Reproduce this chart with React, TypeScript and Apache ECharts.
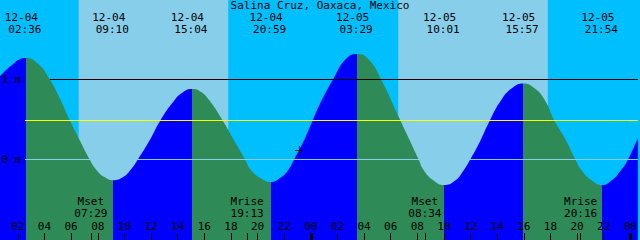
import { useEffect, useRef } from "react";
import * as echarts from "echarts";

// ---------- data ----------
const title = "Salina Cruz, Oaxaca, Mexico";

// high / low tides (local time) and their levels in metres
const extremeTimes = [
  "12-04 02:36", "12-04 09:10", "12-04 15:04", "12-04 20:59",
  "12-05 03:29", "12-05 10:01", "12-05 15:57", "12-05 21:54",
];
const extremeLevels = [1.27, -0.26, 0.88, -0.28, 1.32, -0.32, 0.95, -0.32];

// other points (hours after 12-04 00:00, metres)
const curveHours = [
  0.66, 1.2, 1.63, 2.1,
  3.5, 4.4, 5.1, 5.9, 6.65, 7.39, 7.9, 8.5,
  9.9, 10.46, 11.01, 11.9, 12.71, 13.76, 14.4,
  15.7, 16.38, 17.37, 18.2, 19.07, 19.5, 20.3,
  21.7, 22.31, 22.74, 23.4, 24.09, 24.61, 25.73, 26.6,
  28.3, 29.23, 30.67, 31.4, 32.1, 32.47, 33.2,
  34.8, 35.46, 35.97, 36.6, 37.39, 38.29, 39.1,
  40.8, 41.58, 42.28, 43.1, 43.87, 44.32, 45.1,
  46.6, 47.31, 47.82, 48.56,
];
const curveLevels = [
  1.04, 1.13, 1.19, 1.25,
  1.2, 1.0, 0.78, 0.49, 0.24, 0.0, -0.13, -0.22,
  -0.22, -0.13, 0.0, 0.24, 0.49, 0.74, 0.84,
  0.85, 0.74, 0.49, 0.25, 0.0, -0.13, -0.24,
  -0.23, -0.13, 0.0, 0.21, 0.47, 0.67, 1.02, 1.25,
  1.26, 1.02, 0.51, 0.25, 0.0, -0.13, -0.26,
  -0.27, -0.14, 0.0, 0.19, 0.47, 0.74, 0.89,
  0.89, 0.74, 0.49, 0.26, 0.0, -0.13, -0.26,
  -0.26, -0.13, 0.0, 0.27,
];

// daylight (sunrise, sunset)
const sunrises = ["12-04 06:34", "12-05 06:34"];
const sunsets = ["12-04 17:48", "12-05 17:48"];

// moon events
const moonNames = ["Mset", "Mrise", "Mset", "Mrise"];
const moonTimes = ["12-04 07:29", "12-04 19:13", "12-05 08:34", "12-05 20:16"];

// axis ticks (hours after 12-04 00:00)
const hourTicks = [2, 4, 6, 8, 10, 12, 14, 16, 18, 20, 22, 24, 26, 28, 30, 32, 34, 36, 38, 40, 42, 44, 46, 48];
const midnightTicks = [24, 48];

// reference levels (metres)
const levelMarks = [1, 0];
const levelMarkTexts = ["1 m", "0 m"];
const meanLevel = 0.49;
const meterLineStart = 4.4;
const otherLineStart = 2.53;

// "+" mark: [hours, metres]
const nowMark = [23.15, 0.1125];

// visible window
const hourMin = 0.659;
const hourMax = 48.563;
const levelMin = -1.00625;
const levelMax = 1.99375;

// ---------- helpers ----------
const toHours = (s: string) => {
  const [d, t] = s.split(" ");
  const day = parseInt(d.split("-")[1], 10) - 4;
  const [hh, mm] = t.split(":").map((v) => parseInt(v, 10));
  return day * 24 + hh + mm / 60;
};

const FONT_SIZE = 11;
const FONT = `${FONT_SIZE}px "DejaVu Sans Mono"`;
const NIGHT = "#00BFFF";
const DAY = "#87CEEB";
const FLOOD = "#0000FF";
const EBB = "#2E8B57";

export default function App() {
  const ref = useRef<HTMLDivElement>(null);

  useEffect(() => {
    if (!ref.current) return;
    const chart = echarts.init(ref.current, undefined, { renderer: "svg" });

    const extremeHours = extremeTimes.map(toHours);
    const pts: [number, number][] = [];
    curveHours.forEach((h, i) => pts.push([h, curveLevels[i]]));
    extremeHours.forEach((h, i) => pts.push([h, extremeLevels[i]]));
    pts.sort((a, b) => a[0] - b[0]);

    const isHigh = (i: number) =>
      extremeLevels[i] > (extremeLevels[i + 1] ?? extremeLevels[i - 1]);

    const pieces: any[] = [];
    pieces.push({ lt: extremeHours[0], color: isHigh(0) ? FLOOD : EBB });
    for (let i = 0; i < extremeHours.length - 1; i++) {
      pieces.push({
        gte: extremeHours[i],
        lt: extremeHours[i + 1],
        color: isHigh(i + 1) ? FLOOD : EBB,
      });
    }
    const last = extremeHours.length - 1;
    pieces.push({ gte: extremeHours[last], color: isHigh(last) ? EBB : FLOOD });

    const dayAreas = sunrises.map((s, i) => [
      { xAxis: toHours(s) },
      { xAxis: toHours(sunsets[i]) },
    ]);

    const moonHours = moonTimes.map(toHours);

    const lines = [
      [
        { coord: [meterLineStart, levelMarks[0]], lineStyle: { color: "#000000" } },
        { coord: [hourMax, levelMarks[0]] },
      ],
      [
        { coord: [otherLineStart, meanLevel], lineStyle: { color: "#FFFF00" } },
        { coord: [hourMax, meanLevel] },
      ],
      [
        { coord: [otherLineStart, levelMarks[1]], lineStyle: { color: DAY } },
        { coord: [hourMax, levelMarks[1]] },
      ],
    ];

    const option: any = {
      animation: false,
      backgroundColor: NIGHT,
      grid: { left: 0, right: 0, top: 0, bottom: 0, containLabel: false },
      xAxis: [
        {
          type: "value",
          min: hourMin,
          max: hourMax,
          position: "bottom",
          z: 10,
          axisLine: { show: false, onZero: false },
          splitLine: { show: false },
          axisTick: {
            show: true,
            inside: true,
            length: 7,
            customValues: [...hourTicks, ...moonHours],
            lineStyle: { color: "#000", width: 1 },
          },
          axisLabel: {
            show: true,
            inside: true,
            margin: 14,
            customValues: hourTicks,
            verticalAlign: "middle",
            color: "#000",
            fontFamily: "DejaVu Sans Mono",
            fontSize: FONT_SIZE,
            formatter: (v: number) => String(Math.round(v) % 24).padStart(2, "0"),
          },
        },
        {
          type: "value",
          min: hourMin,
          max: hourMax,
          position: "bottom",
          z: 10,
          axisLine: { show: false, onZero: false },
          splitLine: { show: false },
          axisTick: {
            show: true,
            inside: true,
            length: 7,
            customValues: midnightTicks,
            lineStyle: { color: "#000", width: 3 },
          },
          axisLabel: { show: false },
        },
      ],
      yAxis: { type: "value", min: levelMin, max: levelMax, show: false },
      visualMap: {
        type: "piecewise",
        show: false,
        dimension: 0,
        seriesIndex: 0,
        pieces,
      },
      series: [
        {
          type: "line",
          data: pts,
          smooth: 0.5,
          symbol: "none",
          showSymbol: false,
          silent: true,
          z: 2,
          lineStyle: { width: 0 },
          areaStyle: { origin: "start", opacity: 1 },
          markArea: {
            silent: true,
            z: 1,
            itemStyle: { color: DAY, opacity: 1 },
            data: dayAreas,
          },
          markLine: {
            silent: true,
            z: 3,
            symbol: "none",
            label: { show: false },
            lineStyle: { type: "solid", width: 1 },
            data: lines,
          },
        },
        {
          type: "scatter",
          data: [nowMark],
          symbol: "path://M4,0H5V9H4Z M0,4H9V5H0Z",
          symbolSize: 9,
          itemStyle: { color: "#000" },
          silent: true,
          z: 10,
        },
      ],
    };

    chart.setOption(option);

    const px = (h: number, v: number) =>
      chart.convertToPixel({ gridIndex: 0 }, [h, v]) as number[];

    const txt = (text: string, x: number, y: number, align = "center") => ({
      type: "text",
      x,
      y,
      z: 20,
      silent: true,
      style: { text, fill: "#000", font: FONT, align, verticalAlign: "middle" },
    });

    const elements: any[] = [];
    elements.push(txt(title, 320, 5.5));
    extremeTimes.forEach((s, i) => {
      const x = px(extremeHours[i], 0)[0];
      const [d, t] = s.split(" ");
      elements.push(txt(d, x - 4.5, 17.5));
      elements.push(txt(t, x - 1, 29.5));
    });
    moonTimes.forEach((s, i) => {
      const x = px(moonHours[i], 0)[0];
      elements.push(txt(moonNames[i], x, 201.3));
      elements.push(txt(s.split(" ")[1], x, 213.3));
    });
    levelMarks.forEach((v, i) => {
      const y = px(hourMin, v)[1];
      elements.push(txt(levelMarkTexts[i], 1.5, y, "left"));
    });

    chart.setOption({ graphic: { elements } });

    return () => chart.dispose();
  }, []);

  return (
    <div
      ref={ref}
      style={{ position: "fixed", left: 0, top: 0, width: 640, height: 240 }}
    />
  );
}
